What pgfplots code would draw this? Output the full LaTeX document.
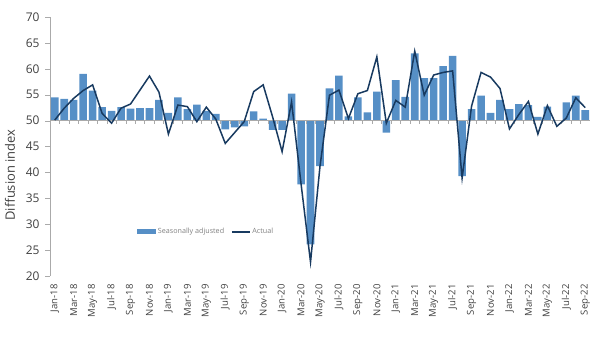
\documentclass[border=0pt]{standalone}
\usepackage{fontspec}
\setmainfont{Open Sans}
\usepackage{pgfplots}
\pgfplotsset{compat=1.18}
\usepackage{pgfplotstable}
\definecolor{barblue}{RGB}{86,143,198}
\definecolor{linenavy}{RGB}{24,58,96}
\definecolor{axgray}{RGB}{170,170,170}
\definecolor{txt}{RGB}{64,64,64}

\pgfplotstableread{
x sa act
0 54.5 50.1
1 54.2 52.4
2 54.0 54.3
3 59.0 55.8
4 55.8 56.9
5 52.6 51.4
6 51.9 49.5
7 52.6 52.4
8 52.3 53.2
9 52.4 55.9
10 52.4 58.6
11 54.0 55.5
12 51.5 47.4
13 54.5 53.0
14 52.2 52.7
15 53.1 49.8
16 51.9 52.6
17 51.3 50.3
18 48.3 45.6
19 48.7 47.7
20 48.9 49.8
21 51.8 55.6
22 50.4 56.9
23 48.2 50.7
24 48.2 44.0
25 55.2 53.6
26 37.7 37.8
27 26.1 22.7
28 41.2 41.2
29 56.2 54.9
30 58.7 55.9
31 50.8 50.4
32 54.5 55.2
33 51.6 55.8
34 55.6 62.3
35 47.7 49.5
36 57.8 53.9
37 54.6 52.6
38 63.0 63.4
39 58.2 54.9
40 58.2 58.8
41 60.5 59.3
42 62.5 59.6
43 39.3 38.9
44 52.2 52.8
45 54.8 59.3
46 51.5 58.4
47 54.0 56.2
48 52.2 48.4
49 53.2 51.2
50 53.0 53.7
51 50.7 47.4
52 52.7 52.9
53 50.1 48.9
54 53.5 50.5
55 54.8 54.4
56 52.0 52.5
}\data

\begin{document}
\begin{tikzpicture}
\path[use as bounding box] (-50bp,-85bp) rectangle (550bp,276bp);
\begin{axis}[
  at={(0bp,0bp)}, anchor=south west,
  scale only axis, width=540bp, height=259bp,
  xmin=-0.5, xmax=56.5, ymin=-30, ymax=20,
  axis lines*=left,
  axis line style={-},
  x axis line style={draw=none},
  y axis line style={draw=axgray},
  tick align=outside,
  major tick length=5bp,
  ytick={-30,-25,...,20},
  yticklabels={20,25,30,35,40,45,50,55,60,65,70},
  y tick style={draw=axgray},
  xtick={0,2,...,56},
  xticklabels={Jan-18,Mar-18,May-18,Jul-18,Sep-18,Nov-18,Jan-19,Mar-19,May-19,Jul-19,Sep-19,Nov-19,Jan-20,Mar-20,May-20,Jul-20,Sep-20,Nov-20,Jan-21,Mar-21,May-21,Jul-21,Sep-21,Nov-21,Jan-22,Mar-22,May-22,Jul-22,Sep-22},
  x tick style={draw=none},
  /pgf/number format/assume math mode=true,
  yticklabel style={font=\fontsize{12}{14}\selectfont, text=txt, xshift=-2bp},
  xticklabel style={font=\fontsize{9.6}{11}\selectfont, text=txt, rotate=90, anchor=east, yshift=0bp},
  ylabel={Diffusion index},
  every axis y label/.style={at={(rel axis cs:0,0.39)}, xshift=-40bp, rotate=90, anchor=center, font=\fontsize{13}{15}\selectfont, text=txt},
  legend style={at={(0.289,0.17)}, anchor=center, draw=none, fill=none,
    font=\fontsize{7.2}{8.5}\selectfont, text=gray, legend columns=2,
    /tikz/every even column/.append style={column sep=5bp}},
]
\addplot[ybar, bar width=7.6bp, fill=barblue, draw=none,
  legend image code/.code={\fill[barblue] (0bp,-2.5bp) rectangle (19bp,2.5bp);}]
  table[x=x, y expr=\thisrow{sa}-50] {\data};
\addlegendentry{Seasonally adjusted}
\draw[axgray, line width=0.6bp] (axis cs:-0.5,0) -- (axis cs:56.5,0);
\pgfplotsinvokeforeach{0.5,1.5,...,55.5}{
  \draw[axgray, line width=0.5bp] (axis cs:#1,0) -- ++(0bp,-3bp);
}
\addplot[linenavy, line width=1.5bp, sharp plot, no marks,
  legend image code/.code={\draw[linenavy, line width=1.3bp] (0bp,0bp) -- (18bp,0bp);}]
  table[x=x, y expr=\thisrow{act}-50] {\data};
\addlegendentry{Actual}
\end{axis}
\end{tikzpicture}
\end{document}
